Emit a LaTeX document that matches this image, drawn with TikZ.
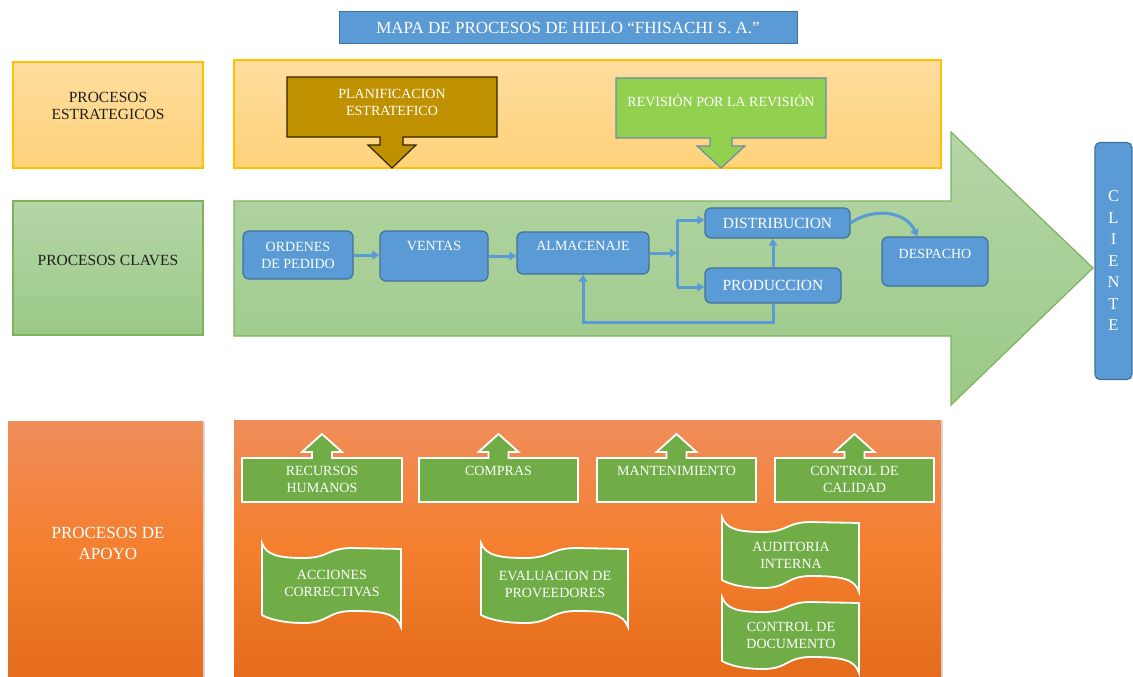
\documentclass[tikz,border=0pt]{standalone}
\usepackage{fontspec}
\setmainfont{Liberation Serif}
\usetikzlibrary{arrows.meta,shadows}

\definecolor{blueF}{HTML}{5B9BD5}
\definecolor{blueD}{HTML}{41719C}
\definecolor{orangeT}{HTML}{FEDD9E}
\definecolor{orangeB}{HTML}{FFD27A}
\definecolor{orangeD}{HTML}{FFC000}
\definecolor{goldF}{HTML}{BF9000}
\definecolor{goldD}{HTML}{2F2600}
\definecolor{limeF}{HTML}{92D050}
\definecolor{limeD}{HTML}{6A8CAE}
\definecolor{greenT}{HTML}{B5D6A7}
\definecolor{greenB}{HTML}{9BC987}
\definecolor{greenD}{HTML}{7EB35E}
\definecolor{apoyoT}{HTML}{F08D5A}
\definecolor{apoyoM}{HTML}{F47F2E}
\definecolor{apoyoB}{HTML}{E46C1A}
\definecolor{leafF}{HTML}{70AD47}

\begin{document}
\begin{tikzpicture}[x=1pt,y=-1pt,
  txt/.style={font=\fontsize{14}{17}\selectfont, text=white, align=center, inner sep=0pt},
  darktxt/.style={font=\fontsize{15.5}{17}\selectfont, text=black!88, align=center, inner sep=0pt},
  panel/.style={inner sep=0pt, line width=1.2pt},
  bluebox/.style={draw=blueD, fill=blueF, rounded corners=6pt, line width=1.2pt, inner sep=0pt},
  flow/.style={draw=blueF, line width=3pt, -{Triangle[length=7pt,width=8.5pt]}},
  flowline/.style={draw=blueF, line width=3pt},
  callout/.style={fill=leafF, draw=white, line width=1.8pt},
  wave/.style={fill=leafF, draw=white, line width=1.8pt},
  softshadow/.style={drop shadow={shadow xshift=2pt, shadow yshift=-1pt, opacity=0.3}}
]
\useasboundingbox (0,0) rectangle (1133,677);

% title
\node[draw=blueD, fill=blueF, line width=1pt, minimum width=458pt, minimum height=32pt,
      inner sep=0pt, font=\fontsize{17}{20}\selectfont, text=white] (title) at (568,28)
      {MAPA DE PROCESOS DE HIELO “FHISACHI S. A.”};

% ---------- strategic row ----------
\node[panel, top color=orangeT, bottom color=orangeB, draw=orangeD,
      minimum width=190pt, minimum height=106pt] (estL) at (108,115) {};
\node[darktxt] (estLt) at (108,106) {PROCESOS\\ESTRATEGICOS};

\node[panel, top color=orangeT, bottom color=orangeB, draw=orangeD,
      minimum width=707pt, minimum height=108pt] (estR) at (587.5,114) {};

\draw[fill=goldF, draw=goldD, line width=1.2pt]
  (287,77) -- (497,77) -- (497,137) -- (403,137) -- (403,145) -- (416,145)
  -- (392,168) -- (368,145) -- (380,145) -- (380,137) -- (287,137) -- cycle;
\node[txt] (planT) at (392,102.5) {PLANIFICACION\\ESTRATEFICO};

\draw[fill=limeF, draw=limeD, line width=1.2pt]
  (616,78) -- (826,78) -- (826,138) -- (732,138) -- (732,146) -- (745,146)
  -- (721,168) -- (697,146) -- (710,146) -- (710,138) -- (616,138) -- cycle;
\node[txt] (revT) at (721,101) {REVISIÓN POR LA REVISIÓN};

% ---------- key processes row ----------
\node[panel, top color=greenT, bottom color=greenB, draw=greenD,
      minimum width=190pt, minimum height=134pt] (clvL) at (108,268) {};
\node[darktxt] (clvLt) at (108,260) {PROCESOS CLAVES};

\shadedraw[top color=greenT, bottom color=greenB, draw=greenD, line width=1.2pt]
  (234,201) -- (951,201) -- (951,132) -- (1093,268) -- (951,405) -- (951,336)
  -- (234,336) -- cycle;

\node[bluebox, minimum width=110pt, minimum height=48pt, txt] (ord) at (298,255)
  {ORDENES\\DE PEDIDO};
\node[bluebox, minimum width=108pt, minimum height=50pt] (ventas) at (434,256) {};
\node[txt] (ventasT) at (434,246) {VENTAS};
\node[bluebox, minimum width=132pt, minimum height=42pt] (almac) at (583,253) {};
\node[txt] (almacT) at (583,246) {ALMACENAJE};
\node[bluebox, minimum width=145pt, minimum height=30pt, txt,
      font=\fontsize{15.5}{17}\selectfont] (distrib) at (777.5,223) {DISTRIBUCION};
\node[bluebox, minimum width=136pt, minimum height=35pt, txt,
      font=\fontsize{15.5}{17}\selectfont] (prod) at (773,285.5) {PRODUCCION};
\node[bluebox, minimum width=106pt, minimum height=49pt] (desp) at (935,261.5) {};
\node[txt] (despT) at (935,254) {DESPACHO};

\node[bluebox, rounded corners=5pt, minimum width=37pt, minimum height=237pt,
      txt, font=\fontsize{16.5}{21.5}\selectfont] (cliente) at (1113.5,261)
  {C\\L\\I\\E\\N\\T\\E};

% connectors
\draw[flow] (ord.east) -- (ventas.west |- ord.east);
\draw[flow] (ventas.east) -- (almac.west |- ventas.east);
\coordinate (split) at (677,253);
\coordinate (splitT) at (677,220);
\coordinate (splitB) at (677,287);
\draw[flow] (almac.east) -- (split);
\draw[flowline] (splitT) -- (splitB);
\draw[flow] (splitT) -- (distrib.west |- splitT);
\draw[flow] (splitB) -- (prod.west |- splitB);
\draw[flow] (prod.north) -- (distrib.south -| prod.north);
\draw[flow] (prod.south) -- ++(0,19) -| (almac.south);
\draw[flow] (distrib.east) .. controls (872,208) and (905,210) .. (desp.125);

% ---------- support row ----------
\node[panel, top color=apoyoT, bottom color=apoyoB, middle color=apoyoM, softshadow,
      minimum width=195pt, minimum height=257pt] (apoL) at (105.5,549.5) {};
\node[txt, font=\fontsize{17}{21}\selectfont] (apoLt) at (108,543) {PROCESOS DE\\APOYO};

\node[panel, top color=apoyoT, bottom color=apoyoB, middle color=apoyoM, softshadow,
      minimum width=707pt, minimum height=258pt] (apoR) at (587.5,549) {};

\foreach \a/\b in {242/402, 419/578, 597/756, 775/934} {
  \pgfmathsetmacro\c{(\a+\b)/2}
  \draw[callout] (\a,458) -- (\c-10,458) -- (\c-10,452) -- (\c-20,452) -- (\c,434)
    -- (\c+20,452) -- (\c+10,452) -- (\c+10,458) -- (\b,458) -- (\b,502)
    -- (\a,502) -- cycle;
}
\node[txt] (rrhh) at (322,479.5) {RECURSOS\\HUMANOS};
\node[txt] (compras) at (498.5,471) {COMPRAS};
\node[txt] (mant) at (676.5,471) {MANTENIMIENTO};
\node[txt] (calidad) at (854.5,479.5) {CONTROL DE\\CALIDAD};

\foreach \xa/\ya/\xb/\yb in {262/543/401/627, 481/543/628/627, 722/517/859/592, 722/597/859/673} {
  \pgfmathsetmacro\w{\xb-\xa}
  \draw[wave] (\xa,\ya)
    .. controls (\xa+0.03*\w,\ya+12) and (\xa+0.12*\w,\ya+15) .. (\xa+0.3*\w,\ya+15)
    .. controls (\xa+0.48*\w,\ya+15) and (\xa+0.47*\w,\ya+5) .. (\xa+0.65*\w,\ya+5)
    -- (\xb,\ya+6) -- (\xb,\yb)
    .. controls (\xb-0.03*\w,\yb-13) and (\xb-0.12*\w,\yb-16) .. (\xa+0.65*\w,\yb-16)
    .. controls (\xa+0.47*\w,\yb-16) and (\xa+0.48*\w,\yb-4) .. (\xa+0.3*\w,\yb-4)
    .. controls (\xa+0.15*\w,\yb-4) and (\xa+0.05*\w,\yb-8) .. (\xa,\yb-12) -- cycle;
}
\node[txt] (acc) at (332,583.5) {ACCIONES\\CORRECTIVAS};
\node[txt] (eval) at (555,584.5) {EVALUACION DE\\PROVEEDORES};
\node[txt] (aud) at (791,555) {AUDITORIA\\INTERNA};
\node[txt] (doc) at (791,635) {CONTROL DE\\DOCUMENTO};

\end{tikzpicture}
\end{document}
